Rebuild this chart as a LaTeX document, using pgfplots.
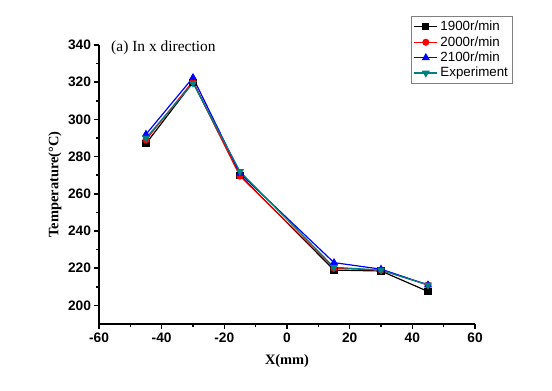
\documentclass[border=0pt]{standalone}
\usepackage{pgfplots}
\pgfplotsset{compat=1.18}
\usepackage{fontspec}
\setmainfont{Liberation Serif}
\newfontfamily\arial{Liberation Sans}
\definecolor{expc}{RGB}{0,128,128}
\begin{document}
\begin{tikzpicture}
\path[use as bounding box] (-74.25pt,-49.5pt) rectangle (339.75pt,243pt);
\begin{axis}[
  scale only axis, width=282pt, height=209.25pt,
  at={(0,0)}, anchor=south west, clip=false,
  xmin=-60, xmax=60, ymin=190, ymax=340,
  axis x line*=bottom, axis y line*=left,
  axis line style={line width=1.4pt},
  xtick={-60,-40,...,60}, ytick={200,220,...,340},
  minor x tick num=1, minor y tick num=1,
  tick align=outside,
  major tick length=3.5pt, minor tick length=2.2pt,
  every tick/.style={line width=1.1pt, black},
  /pgf/number format/assume math mode=true,
  tick label style={font=\arial\bfseries\fontsize{10.3}{12}\selectfont},
  yticklabel style={xshift=1pt},
  xlabel={\textbf{X(mm)}}, ylabel={\textbf{Temperature(°C)}},
  label style={font=\fontsize{10.8}{12}\selectfont},
  xlabel style={yshift=-2pt},
  ylabel style={yshift=-2pt},
  legend style={at={(1.101,1.104)}, anchor=north east, draw=gray, line width=0.6pt,
    font=\arial\fontsize{10}{11}\selectfont, row sep=-1.2pt, inner sep=1.5pt},
  legend cell align=left,
  every axis plot/.append style={line width=0.9pt, mark size=2.2pt},
]
\addplot[black, mark=square*] coordinates {(-45,287) (-30,320) (-15,270) (15,219) (30,218.5) (45,207.5)};
\addplot[red, mark=*] coordinates {(-45,289) (-30,320.5) (-15,269.5) (15,220) (30,219) (45,211)};
\addplot[blue, mark=triangle*, mark size=2.6pt] coordinates {(-45,292) (-30,322.5) (-15,271) (15,223) (30,219.5) (45,211)};
\addplot[expc, mark=triangle*, mark options={rotate=180}, mark size=2.6pt] coordinates {(-45,290) (-30,319.5) (-15,272) (15,220.5) (30,219) (45,211)};
\legend{1900r/min,2000r/min,2100r/min,Experiment}
\node[anchor=west, font=\fontsize{11.6}{13}\selectfont] at (rel axis cs:0.02,0.99) {(a) In x direction};
\end{axis}
\end{tikzpicture}
\end{document}
